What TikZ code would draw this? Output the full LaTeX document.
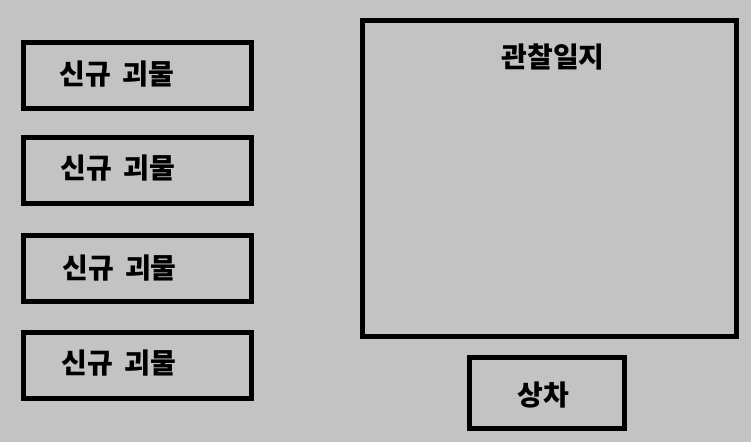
\documentclass[tikz,border=0pt]{standalone}
\usepackage{fontspec}
\newfontfamily\kr{Noto Sans CJK KR}
\definecolor{bg}{RGB}{195,195,195}
\tikzset{
  box/.style={draw=black, line width=5pt, rectangle, inner sep=0pt},
  lbl/.style={font=\kr\bfseries\fontsize{28}{30}\selectfont, inner sep=0pt, anchor=center}
}
\newcommand{\sgm}{신규\hspace{11pt}괴물}
\begin{document}
\begin{tikzpicture}[x=1pt,y=-1pt]
\fill[bg] (0,0) rectangle (751,442);
\useasboundingbox (0,0) rectangle (751,442);
\node[box, minimum width=228pt, minimum height=66pt] (b1) at (137.5,75.5) {};
\node[box, minimum width=228pt, minimum height=65.5pt] (b2) at (137.5,170.3) {};
\node[box, minimum width=228pt, minimum height=65.2pt] (b3) at (137.5,268.4) {};
\node[box, minimum width=228pt, minimum height=66pt] (b4) at (137.5,365.5) {};
\node[box, minimum width=373.5pt, minimum height=315.5pt] (log) at (549.25,178.25) {};
\node[box, minimum width=155.5pt, minimum height=70.5pt] (cart) at (546.75,392.75) {};
\node[lbl] (t1) at (117,74) {\sgm};
\node[lbl] (t2) at (118,168) {\sgm};
\node[lbl] (t3) at (119.7,268) {\sgm};
\node[lbl] (t4) at (119,363) {\sgm};
\node[lbl] (tlog) at (553,56.5) {관찰일지};
\node[lbl] (tcart) at (543,395) {상차};
\end{tikzpicture}
\end{document}
